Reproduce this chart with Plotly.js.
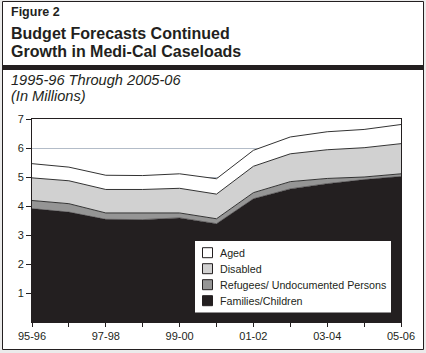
<!DOCTYPE html>
<html>
<head>
<meta charset="utf-8">
<script src="https://cdn.plot.ly/plotly-3.0.1.min.js"></script>
<style>html,body{margin:0;padding:0;background:#ebebeb;}#chart{width:426px;height:353px;}</style>
</head>
<body>
<div id="chart"></div>
<script>
// ---- data (millions of caseloads) ----
const years = ['95-96','96-97','97-98','98-99','99-00','00-01','01-02','02-03','03-04','04-05','05-06'];
const tickLabels = ['95-96','','97-98','','99-00','','01-02','','03-04','','05-06'];
const families = [3.91,3.79,3.54,3.53,3.59,3.39,4.25,4.59,4.77,4.91,5.02];
const refugees = [0.28,0.29,0.22,0.22,0.17,0.17,0.21,0.25,0.18,0.09,0.09];
const disabled = [0.78,0.79,0.81,0.82,0.85,0.85,0.91,0.96,0.99,1.01,1.04];
const aged     = [0.49,0.47,0.49,0.48,0.50,0.53,0.55,0.58,0.62,0.63,0.66];
const seriesNames = ['Families/Children','Refugees/ Undocumented Persons','Disabled','Aged'];
const yTicks = [1,2,3,4,5,6,7];

// ---- styling ----
const W = 426, H = 353;
const M = {l: 32, r: 25, t: 119, b: 31};
const PW = W - M.l - M.r, PH = H - M.t - M.b;
const px = x => (x - M.l) / PW;
const py = y => (H - M.b - y) / PH;
const ink = '#231f20';
const edge = '#333333';
const fills = ['#231f20', '#959595', '#d1d1d1', '#ffffff'];
const FONT = 'Liberation Sans, Arial, Helvetica, sans-serif';

const series = [families, refugees, disabled, aged];
const traces = series.map((vals, i) => ({
  type: 'scatter', mode: 'lines', x: years, y: vals,
  stackgroup: 'one', fillcolor: fills[i],
  line: {color: i === 0 ? ink : edge, width: i === 0 ? 0.5 : 1},
  name: seriesNames[i], showlegend: false, hoverinfo: 'skip'
}));

const ann = (text, x, y, size, opts) => Object.assign({
  text: text, xref: 'paper', yref: 'paper', x: px(x), y: py(y),
  xanchor: 'left', yanchor: 'middle', showarrow: false,
  font: {family: FONT, size: size, color: ink}
}, opts || {});

const shapes = [
  {type: 'rect', xref: 'paper', yref: 'paper', layer: 'below',
   x0: px(2.5), x1: px(423.5), y0: py(1.5), y1: py(349.5),
   fillcolor: '#ffffff', line: {color: ink, width: 1}},
  {type: 'line', xref: 'paper', yref: 'paper', layer: 'above',
   x0: px(3), x1: px(423), y0: py(67.5), y1: py(67.5),
   line: {color: ink, width: 5}},
  {type: 'rect', xref: 'paper', yref: 'paper', layer: 'above',
   x0: px(195), x1: px(391), y0: py(241), y1: py(312.5),
   fillcolor: '#ffffff', line: {width: 0}}
];
const annotations = [
  ann('<b>Figure 2</b>', 9, 12.2, 12.5),
  ann('<b>Budget Forecasts Continued</b>', 9, 33.8, 16),
  ann('<b>Growth in Medi-Cal Caseloads</b>', 9, 51.8, 16),
  ann('<i>1995-96 Through 2005-06</i>', 9, 80.4, 14.6),
  ann('<i>(In Millions)</i>', 9, 96.2, 14.6)
];
// legend (top to bottom: Aged ... Families)
[3,2,1,0].forEach((s, k) => {
  const cy = 252.7 + 16 * k;
  shapes.push({type: 'rect', xref: 'paper', yref: 'paper', layer: 'above',
    x0: px(202.5), x1: px(212.5), y0: py(cy - 5), y1: py(cy + 5),
    fillcolor: fills[s], line: {color: ink, width: 1}});
  annotations.push(ann(seriesNames[s], 218, cy, 10.7));
});

const layout = {
  width: W, height: H,
  margin: M,
  paper_bgcolor: '#ebebeb',
  plot_bgcolor: 'rgba(0,0,0,0)',
  showlegend: false,
  xaxis: {
    type: 'category', range: [0, 10],
    tickmode: 'array', tickvals: years, ticktext: tickLabels,
    ticks: 'outside', ticklen: 4, tickcolor: ink, tickwidth: 1,
    showline: true, linecolor: ink, linewidth: 1, mirror: true,
    showgrid: false, zeroline: false,
    tickfont: {family: FONT, size: 11, color: ink}
  },
  yaxis: {
    range: [0, 7], tickmode: 'array', tickvals: yTicks,
    ticks: 'outside', ticklen: 5, tickcolor: ink, tickwidth: 1,
    showline: true, linecolor: ink, linewidth: 1, mirror: true,
    showgrid: true, gridcolor: '#b3bcc8', gridwidth: 1, zeroline: false,
    tickfont: {family: FONT, size: 11, color: ink}
  },
  shapes: shapes,
  annotations: annotations
};

Plotly.newPlot('chart', traces, layout, {staticPlot: true, displayModeBar: false});
</script>
</body>
</html>
